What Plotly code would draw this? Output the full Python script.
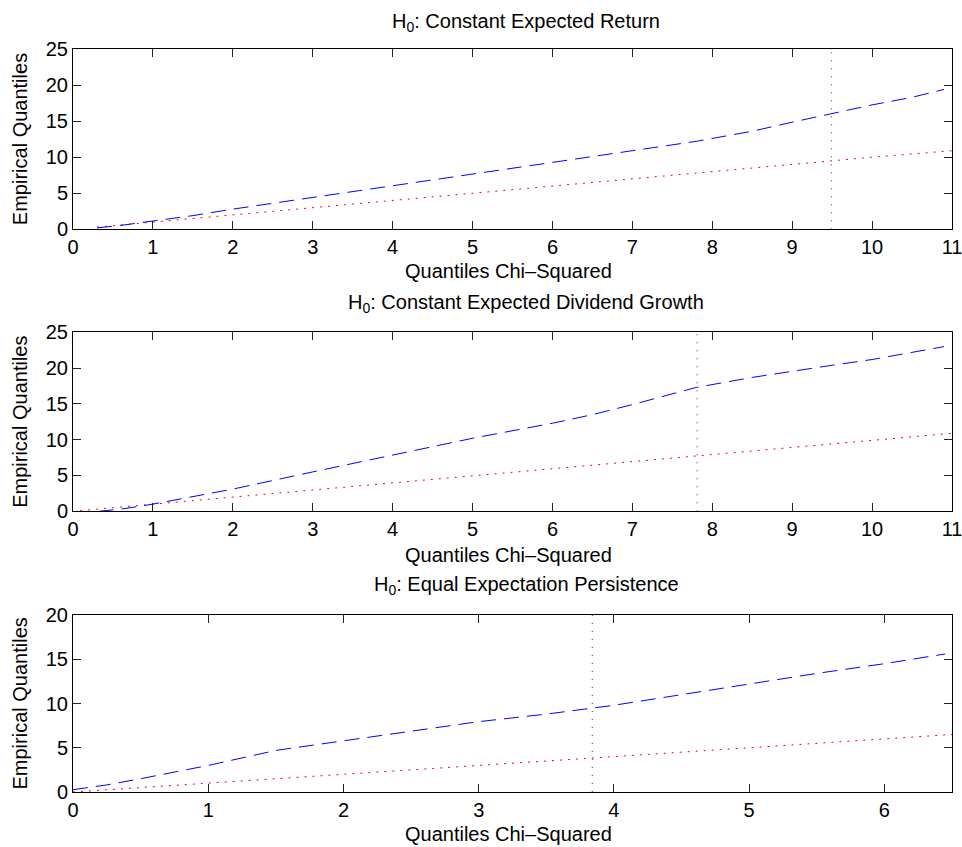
import plotly.graph_objects as go

# ---- data ----
titles = ["H<sub>0</sub>: Constant Expected Return",
          "H<sub>0</sub>: Constant Expected Dividend Growth",
          "H<sub>0</sub>: Equal Expectation Persistence"]
x_label = "Quantiles Chi\u2013Squared"
y_label = "Empirical Quantiles"

crit_vals = [9.49, 7.81, 3.84]

emp1_x = [0.3, 0.6, 1.0, 1.5, 2, 3, 4, 5, 6, 7, 7.8, 8.5, 9, 9.5, 10, 10.5, 10.9]
emp1_y = [0.2, 0.55, 1.15, 1.9, 2.8, 4.4, 6.0, 7.7, 9.2, 10.9, 12.2, 13.6, 14.85, 16.1, 17.25, 18.3, 19.4]
ref1_x = [0.3, 1, 2, 3, 4, 5, 6, 7, 8, 9, 10, 11]
ref1_y = [0.3, 1, 2, 3, 4.05, 5.05, 6, 7, 8, 9, 10, 10.9]

emp2_x = [0.32, 0.6, 1.0, 1.5, 2, 3, 4, 5, 6, 6.5, 7, 7.8, 8.5, 9, 9.5, 10, 10.9]
emp2_y = [0.0, 0.3, 1.0, 2.0, 3.1, 5.5, 7.9, 10.2, 12.3, 13.5, 14.9, 17.3, 18.7, 19.6, 20.4, 21.2, 23.0]
ref2_x = [0.09, 1, 2, 3, 4, 5, 6, 7, 8, 9, 10, 11]
ref2_y = [0.09, 1, 2, 3, 4, 5, 6, 7, 8, 9, 10, 10.9]

emp3_x = [0, 0.25, 0.5, 0.75, 1, 1.5, 2, 2.5, 3, 3.5, 3.84, 4, 4.5, 5, 5.5, 6, 6.45]
emp3_y = [0.26, 0.8, 1.5, 2.25, 3.0, 4.7, 5.8, 6.9, 7.95, 8.8, 9.45, 9.8, 11.0, 12.2, 13.4, 14.5, 15.6]
ref3_x = [0, 1, 2, 3, 4, 5, 6, 6.5]
ref3_y = [0, 1, 2, 3, 4, 5, 6, 6.5]

x_ranges = [[0, 11], [0, 11], [0, 6.5]]
y_ranges = [[0, 25], [0, 25], [0, 20]]
x_dtick = [1, 1, 1]
y_dtick = [5, 5, 5]

panels = [(emp1_x, emp1_y, ref1_x, ref1_y),
          (emp2_x, emp2_y, ref2_x, ref2_y),
          (emp3_x, emp3_y, ref3_x, ref3_y)]

# ---- layout geometry ----
W, H = 962, 847
ML, MR, MT, MB = 73, 10, 49, 55
domains = [[0.7573, 1.0], [0.3778, 0.6187], [0.0, 0.2382]]
title_y = [1.0363, 0.6581, 0.2786]
xlab_y = [0.7012, 0.3190, -0.0565]
FONT = "Liberation Sans, Arial, Helvetica, sans-serif"
FS = 20

fig = go.Figure()
for i, (ex, ey, rx, ry) in enumerate(panels):
    xa = "x" if i == 0 else f"x{i+1}"
    ya = "y" if i == 0 else f"y{i+1}"
    fig.add_trace(go.Scatter(x=rx, y=ry, mode="lines", xaxis=xa, yaxis=ya,
                             line=dict(color="#ff0000", width=1, dash="2px,6px"),
                             showlegend=False, hoverinfo="skip"))
    fig.add_trace(go.Scatter(x=ex, y=ey, mode="lines", xaxis=xa, yaxis=ya,
                             line=dict(color="#0000ff", width=1, dash="15px,8px"),
                             showlegend=False, hoverinfo="skip"))
    fig.add_trace(go.Scatter(x=[crit_vals[i], crit_vals[i]], y=y_ranges[i],
                             mode="lines", xaxis=xa, yaxis=ya,
                             line=dict(color="#333333", width=1, dash="1px,7px"),
                             showlegend=False, hoverinfo="skip"))

axis_common = dict(showline=True, linecolor="black", linewidth=1, mirror="allticks",
                   ticks="inside", ticklen=8, tickcolor="#222222", tickwidth=1,
                   showgrid=False, zeroline=False, automargin=False,
                   ticklabeloverflow="allow",
                   tickfont=dict(family=FONT, size=FS, color="black"))

layout = dict(width=W, height=H, margin=dict(l=ML, r=MR, t=MT, b=MB, autoexpand=False),
              paper_bgcolor="white", plot_bgcolor="white",
              font=dict(family=FONT, size=FS, color="black"),
              annotations=[])
for i in range(3):
    xk = "xaxis" if i == 0 else f"xaxis{i+1}"
    yk = "yaxis" if i == 0 else f"yaxis{i+1}"
    ya = "y" if i == 0 else f"y{i+1}"
    xa = "x" if i == 0 else f"x{i+1}"
    layout[xk] = dict(axis_common, domain=[0, 1], anchor=ya, range=x_ranges[i],
                      dtick=x_dtick[i], tick0=0)
    layout[yk] = dict(axis_common, domain=domains[i], anchor=xa, range=y_ranges[i],
                      dtick=y_dtick[i], tick0=0)
    d0, d1 = domains[i]
    layout["annotations"].append(dict(text=titles[i], xref="paper", yref="paper",
                                      x=0.5154, y=title_y[i], xanchor="center", yanchor="middle",
                                      showarrow=False, font=dict(family=FONT, size=FS)))
    layout["annotations"].append(dict(text=x_label, xref="paper", yref="paper",
                                      x=0.496, y=xlab_y[i], xanchor="center", yanchor="middle",
                                      showarrow=False, font=dict(family=FONT, size=FS)))
    layout["annotations"].append(dict(text=y_label, xref="paper", yref="paper",
                                      x=-0.0603, y=(d0 + d1) / 2, xanchor="center", yanchor="middle",
                                      textangle=-90, showarrow=False,
                                      font=dict(family=FONT, size=FS)))

fig.update_layout(**layout)
fig.write_html("out.html")
